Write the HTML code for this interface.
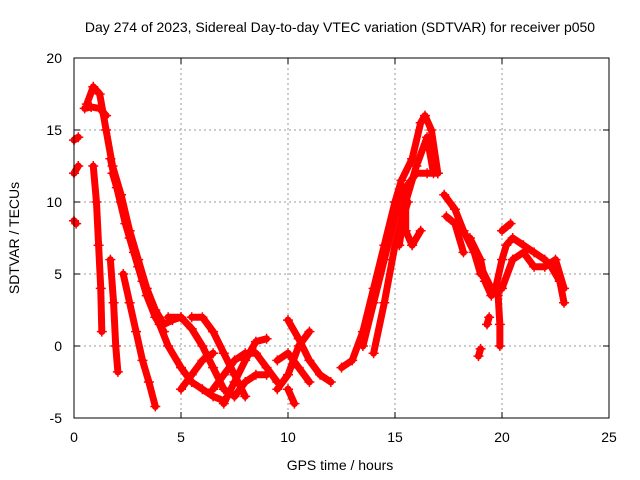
<!DOCTYPE html>
<html><head><meta charset="utf-8"><style>
body{margin:0;background:#fff}
svg{display:block;font-family:"Liberation Sans",sans-serif}
</style></head><body>
<svg id="chart" width="640" height="480" viewBox="0 0 640 480">
<text x="340" y="32" font-size="14" text-anchor="middle">Day 274 of 2023, Sidereal Day-to-day VTEC variation (SDTVAR) for receiver p050</text>
<g id="grid"></g>
<g id="marks"></g>
<rect x="74" y="58" width="535" height="360" fill="none" stroke="#000" stroke-width="1"/>
<g id="axes"></g>
<text x="340" y="470" font-size="14" text-anchor="middle">GPS time / hours</text>
<text x="19" y="238" font-size="14" text-anchor="middle" transform="rotate(-90 19 238)">SDTVAR / TECUs</text>
</svg>
<script>
const xTicks=[0,5,10,15,20,25];
const yTicks=[-5,0,5,10,15,20];
const trackMain=[[0.6,16.8],[0.9,18],[1.2,17.5],[1.5,15],[1.8,12.5],[2.2,10.5],[2.6,8],[3,6],[3.4,4],[3.8,2.5],[4.2,1.5],[4.6,1.8],[5,2]];
const trackMain2=[[1.7,13],[2,11],[2.4,8.5],[2.8,6.5],[3.2,4.5],[3.6,3],[4,1.5],[4.4,0],[5,-1.5],[5.5,-2.5],[6,-3],[6.5,-3.5],[7,-3.8]];
const trackMain3=[[1.8,12],[2.2,10],[2.6,7.5],[3,5.5],[3.4,3.5],[3.8,2],[4.2,1]];
const trackSteep=[[2.3,5],[2.6,3],[2.9,1],[3.2,-1],[3.5,-2.5],[3.8,-4.2]];
const trackDrip1=[[0.9,12.5],[1.05,10],[1.15,7],[1.25,4],[1.3,1]];
const trackDrip2=[[1.7,6],[1.85,3],[1.95,0],[2.05,-1.8]];
const trackLeftA=[[0,8.7],[0.1,8.5]];
const trackLeftB=[[0,12],[0.2,12.5]];
const trackLeftC=[[0,14.3],[0.2,14.5]];
const trackTop=[[0.5,16.5],[0.8,16.6],[1.2,16.5],[1.5,16]];
const trackV1=[[4.4,2],[5,2],[5.5,1.2],[6,0],[6.5,-1.5],[7,-3],[7.5,-3.5]];
const trackV2=[[5.5,2],[6,2],[6.5,1],[7,-0.5],[7.5,-2],[8,-3.5]];
const trackV3=[[5,-3],[5.5,-2],[6,-1],[6.5,-0.5]];
const trackV4=[[7,-4],[7.5,-2.5],[8,-1],[8.5,0.3],[9,0.5]];
const trackV5=[[6.5,-3],[7,-2],[7.5,-1],[8,-0.5],[8.5,-0.5],[9,-1.5],[9.5,-2.5]];
const trackV6=[[7.5,-3.5],[8,-2.5],[8.5,-2],[9,-2]];
const trackV7=[[9.5,-1],[10,-0.5],[10.5,-1.5],[11,-2.5]];
const trackV8=[[9.5,-3],[10,-2],[10.5,0],[11,1]];
const trackV9=[[10,1.8],[10.5,0.5],[11,-1],[11.5,-2],[12,-2.5]];
const trackV10=[[10,-3],[10.3,-4]];
const trackRise1=[[12.5,-1.5],[13,-1],[13.5,1],[14,4],[14.5,7],[15,10],[15.3,11.5],[15.8,13],[16.2,15.5],[16.4,16],[16.7,15],[17,12]];
const trackRise2=[[13.5,0],[14,3],[14.5,6],[15,9],[15.5,11],[16,12],[16.5,12],[17,12]];
const trackRise3=[[14,-0.5],[14.5,3],[15,7],[15.5,10],[16,12.5],[16.5,14.5],[16.8,12]];
const trackDip=[[15.5,11],[15.5,8],[15.8,7],[16.2,8]];
const trackDip2=[[15.2,7],[15.4,9],[15.6,10]];
const trackFall1=[[17.3,10.5],[17.8,9.5],[18.2,8],[18.7,6.5],[19,5]];
const trackFall2=[[17.4,9],[17.8,8.5],[18.2,6.5]];
const trackFall3=[[18.5,7.5],[19,6],[19.2,4.5],[19.5,3.5]];
const trackFall4=[[19,5.5],[19.5,4],[19.8,3.5]];
const trackRight1=[[19.7,4],[20,6],[20.2,7],[20.5,7.5],[21,7],[21.5,6.5],[22,6],[22.3,5.5],[22.7,4.5],[22.9,3]];
const trackRight2=[[20,8],[20.4,8.5]];
const trackRight3=[[20,4],[20.5,6],[21,6.5],[21.5,5.5],[22,5.5],[22.5,6],[22.9,4]];
const trackDrip3=[[19.8,4],[19.9,1.5],[19.9,0]];
const trackDrip4=[[18.9,-0.7],[19.0,-0.2]];
const trackDrip5=[[19.3,1.5],[19.4,2]];
const tracks=[trackMain,trackMain2,trackMain3,trackSteep,trackDrip1,trackDrip2,trackLeftA,trackLeftB,trackLeftC,trackTop,trackV1,trackV2,trackV3,trackV4,trackV5,trackV6,trackV7,trackV8,trackV9,trackV10,trackRise1,trackRise2,trackRise3,trackDip,trackDip2,trackFall1,trackFall2,trackFall3,trackFall4,trackRight1,trackRight2,trackRight3,trackDrip3,trackDrip4,trackDrip5];

const L=74,R=609,T=58,B=418;
const X=h=>L+(h-0)/25*(R-L);
const Y=v=>B-(v+5)/25*(B-T);
const NS='http://www.w3.org/2000/svg';
const grid=document.getElementById('grid'),axes=document.getElementById('axes'),marks=document.getElementById('marks');
function mk(tag,attrs,parent){const e=document.createElementNS(NS,tag);for(const k in attrs)e.setAttribute(k,attrs[k]);parent.appendChild(e);return e;}
xTicks.forEach(t=>{
  const x=X(t);
  if(t>0&&t<25){const g=mk('line',{x1:x,x2:x,y1:T,y2:B,stroke:'#999','stroke-dasharray':'2,3'},grid);
    
    }
  mk('line',{x1:x,x2:x,y1:B,y2:B-6,stroke:'#000'},axes);
  mk('line',{x1:x,x2:x,y1:T,y2:T+6,stroke:'#000'},axes);
  const tx=mk('text',{x:x,y:B+24,'font-size':14,'text-anchor':'middle'},axes);
  
  
  tx.textContent=t;
});
yTicks.forEach(t=>{
  const y=Y(t);
  if(t>-5&&t<20){const g=mk('line',{x1:L,x2:R,y1:y,y2:y,stroke:'#999','stroke-dasharray':'2,3'},grid);
    
    }
  mk('line',{x1:L,x2:L+6,y1:y,y2:y,stroke:'#000'},axes);
  mk('line',{x1:R,x2:R-6,y1:y,y2:y,stroke:'#000'},axes);
  const tx=mk('text',{x:L-12,y:y+5,'font-size':14,'text-anchor':'end'},axes);
  
  
  tx.textContent=t;
});
tracks.forEach(tr=>{
  const pl=mk('polyline',{points:tr.map(p=>X(p[0])+','+Y(p[1])).join(' '),fill:'none',stroke:'#f00','stroke-width':7,'stroke-linejoin':'round','stroke-linecap':'round'},marks);
  
  
  tr.forEach(p=>{
    const x=X(p[0]),y=Y(p[1]);
    const m=mk('path',{d:`M${x-5},${y}H${x+5}M${x},${y-5}V${y+5}`,stroke:'#f00','stroke-width':1.5},marks);
    
    
  });
});
</script>
</body></html>
